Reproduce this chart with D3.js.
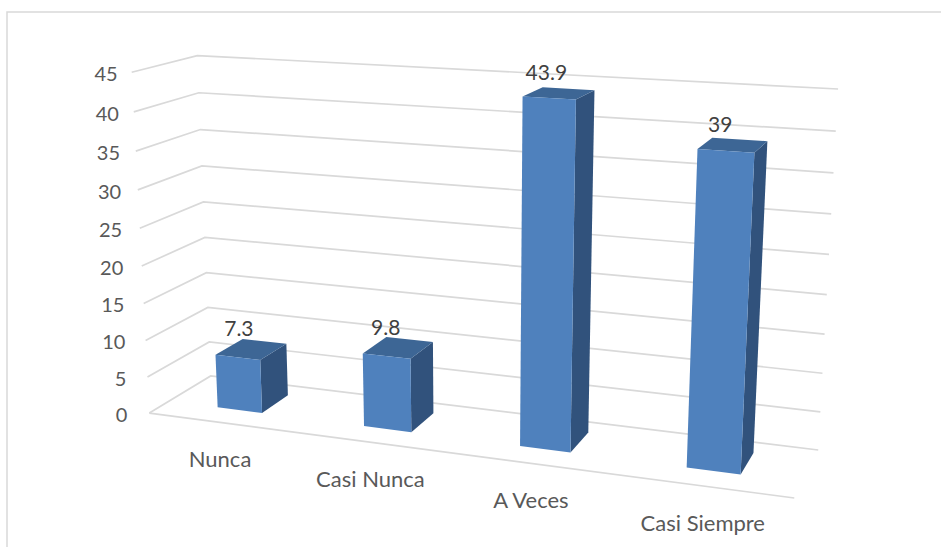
<!DOCTYPE html>
<html>
<head>
<meta charset="utf-8">
<script src="https://cdn.jsdelivr.net/npm/d3@7"></script>
<style>
  html, body { margin: 0; padding: 0; background: #fff; }
  svg { display: block; }
  text { font-family: Lato, "Open Sans", sans-serif; }
</style>
</head>
<body>
<svg id="chart" width="941" height="547"></svg>
<script>
const categories = ["Nunca", "Casi Nunca", "A Veces", "Casi Siempre"];
const percentages = [7.3, 9.8, 43.9, 39];
const valueLabels = ["7.3", "9.8", "43.9", "39"];
const valueTicks = [0, 5, 10, 15, 20, 25, 30, 35, 40, 45];

const colors = { front: "#4f81bd", top: "#3d6695", side: "#31527c", grid: "#d9d9d9", axisText: "#595959", valueText: "#404040" };

const svg = d3.select("#chart");

// Plot-space scales: category across, value upward, depth into the page.
const x = d3.scaleBand().domain(categories).range([0, 1]).paddingInner(0.69).paddingOuter(0.345);
const y = d3.scaleLinear().domain([0, 45]).range([0, 1]);
const depthFront = 0.31, depthBack = 0.77;

// Camera calibration: known plot-box corners and where they land on the page.
const cameraPins = [
  [0, 0, 0, 150, 413], [0, 1, 0, 131, 72.3],
  [0, 0, 1, 210, 376], [0, 1, 1, 198, 55.5],
  [1, 0, 0, 794.3, 498], [1, 0, 1, 818.3, 450], [1, 1, 1, 838, 89]
];

// Least-squares solve for the 3x4 projective camera (last entry fixed at 1).
function solveCamera(pins) {
  const rows = [], rhs = [];
  for (const [a, b, c, px, py] of pins) {
    rows.push([a, b, c, 1, 0, 0, 0, 0, -px * a, -px * b, -px * c]); rhs.push(px);
    rows.push([0, 0, 0, 0, a, b, c, 1, -py * a, -py * b, -py * c]); rhs.push(py);
  }
  const n = 11;
  const M = d3.range(n).map(i => {
    const row = d3.range(n).map(j => d3.sum(rows, r => r[i] * r[j]));
    row.push(d3.sum(rows, (r, k) => r[i] * rhs[k]));
    return row;
  });
  for (let i = 0; i < n; i++) {
    let p = i;
    for (let r = i + 1; r < n; r++) if (Math.abs(M[r][i]) > Math.abs(M[p][i])) p = r;
    [M[i], M[p]] = [M[p], M[i]];
    for (let r = 0; r < n; r++) {
      if (r === i) continue;
      const f = M[r][i] / M[i][i];
      for (let c = i; c <= n; c++) M[r][c] -= f * M[i][c];
    }
  }
  return M.map((row, i) => row[n] / row[i]);
}
const cam = solveCamera(cameraPins);
const project = (a, b, c) => {
  const w = cam[8] * a + cam[9] * b + cam[10] * c + 1;
  return [(cam[0] * a + cam[1] * b + cam[2] * c + cam[3]) / w,
          (cam[4] * a + cam[5] * b + cam[6] * c + cam[7]) / w];
};
const line = d3.line();

// Frame of the chart area
svg.append("path").attr("d", "M7,547V12H941").attr("fill", "none")
  .attr("stroke", colors.grid).attr("stroke-width", 1.5);

// Gridlines run along the side wall and then the back wall
const grid = svg.append("g").attr("fill", "none").attr("stroke", colors.grid).attr("stroke-width", 1.7);
grid.selectAll("path.wall").data(valueTicks).join("path").attr("class", "wall")
  .attr("d", t => line([project(0, y(t), 0), project(0, y(t), 1), project(1, y(t), 1)]));
grid.append("path").attr("d", line([project(0, 0, 0), project(1, 0, 0)]));

// Bars, each built from its front, top and side faces
const bars = svg.append("g").selectAll("g").data(categories).join("g");
bars.each(function (cat, i) {
  const a0 = x(cat), a1 = a0 + x.bandwidth(), h = y(percentages[i]);
  const g = d3.select(this);
  g.append("path").attr("fill", colors.side).attr("d", line([
    project(a1, 0, depthFront), project(a1, 0, depthBack), project(a1, h, depthBack), project(a1, h, depthFront)]) + "Z");
  g.append("path").attr("fill", colors.top).attr("d", line([
    project(a0, h, depthFront), project(a1, h, depthFront), project(a1, h, depthBack), project(a0, h, depthBack)]) + "Z");
  g.append("path").attr("fill", colors.front).attr("d", line([
    project(a0, 0, depthFront), project(a1, 0, depthFront), project(a1, h, depthFront), project(a0, h, depthFront)]) + "Z");
});

// Value axis labels sit just off the front-left edge
svg.append("g").selectAll("text").data(valueTicks).join("text")
  .attr("x", t => project(0, y(t), 0)[0] - 14 - 8 * (1 - t / 45))
  .attr("y", t => project(0, y(t), 0)[1] + 2)
  .attr("dy", "0.35em").attr("text-anchor", "end")
  .attr("font-size", 20).attr("fill", colors.axisText).text(t => t);

// Category labels below the floor's front edge
svg.append("g").selectAll("text").data(categories).join("text")
  .attr("x", c => project(x(c) + x.bandwidth() / 2, 0, 0)[0] - 1)
  .attr("y", c => project(x(c) + x.bandwidth() / 2, 0, 0)[1] + 37)
  .attr("dy", "0.35em").attr("text-anchor", "middle")
  .attr("font-size", 22).attr("fill", colors.axisText).text(c => c);

// Data labels above each bar's top face
svg.append("g").selectAll("text").data(categories).join("text")
  .attr("x", (c, i) => project(x(c) + x.bandwidth() / 2, y(percentages[i]), 0.55)[0] - 13)
  .attr("y", (c, i) => project(x(c) + x.bandwidth() / 2, y(percentages[i]), 0.55)[1] - 20)
  .attr("dy", "0.35em").attr("text-anchor", "middle")
  .attr("font-size", 21).attr("fill", colors.valueText).text((c, i) => valueLabels[i]);
</script>
</body>
</html>
